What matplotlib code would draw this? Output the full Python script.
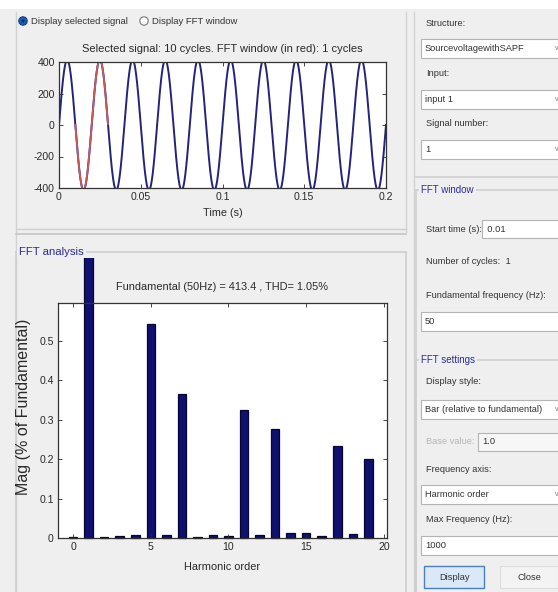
import matplotlib.pyplot as plt
import numpy as np
from matplotlib.patches import Rectangle, Circle

W, H = 558, 592  # output size in pixels
DPI = 100

# signal shown in the top axes (parameters read from the window)
FUND_FREQ = 50.0       # Hz
FUND_MAG = 413.4       # peak value
SIM_TIME = 0.2         # s
FFT_START = 0.01       # s
FFT_CYCLES = 1
time_ticks = [0, 0.05, 0.1, 0.15, 0.2]
time_labels = ["0", "0.05", "0.1", "0.15", "0.2"]
volt_ticks = [-400, -200, 0, 200, 400]

# harmonic spectrum (% of fundamental), orders 0..19
harmonic_order = list(range(20))
harmonic_mag = [0.003, 100.0, 0.002, 0.005, 0.008, 0.542, 0.008, 0.365, 0.002, 0.008,
                0.004, 0.325, 0.008, 0.277, 0.013, 0.013, 0.005, 0.234, 0.010, 0.200]
mag_ticks = [0, 0.1, 0.2, 0.3, 0.4, 0.5]
mag_labels = ["0", "0.1", "0.2", "0.3", "0.4", "0.5"]
order_ticks = [0, 5, 10, 15, 20]

GUI_GRAY = "#efefef"
BLUE_TXT = "#2b2b9a"
TXT = "#2a2a2a"
plt.rcParams['font.family'] = ["Liberation Sans", "DejaVu Sans"]
plt.rcParams['axes.unicode_minus'] = False

fig = plt.figure(figsize=(W / DPI, H / DPI), dpi=DPI, facecolor=GUI_GRAY)

# background axes in pixel coords (origin top-left) for the GUI furniture
bg = fig.add_axes([0, 0, 1, 1])
bg.set_xlim(0, W)
bg.set_ylim(H, 0)
bg.axis("off")
bg.add_patch(Rectangle((0, 0), W, 9, color="white", lw=0))


def px_axes(left, top, right, bottom):
    return fig.add_axes([left / W, 1 - bottom / H, (right - left) / W, (bottom - top) / H])


def label(x, y, s, size=6.7, color="#333333", **kw):
    bg.text(x, y, s, fontsize=size, color=color, va="center", ha=kw.pop("ha", "left"), **kw)


def box(x, y, w, h, text="", arrow=False, fc="white"):
    bg.add_patch(Rectangle((x, y), w, h, fc=fc, ec="#b4b4b4", lw=0.8))
    if text:
        label(x + 4, y + h / 2, text)
    if arrow:
        label(x + w - 6, y + h / 2, "v", size=5, color="#777777")


def frame(x0, y0, x1, y1, title=None, tx=None, size=7.0):
    bg.plot([x0, x1], [y0, y0], color="#cfcfcf", lw=1.2)
    bg.plot([x0, x0], [y0, y1], color="#cfcfcf", lw=1.2)
    bg.plot([x1, x1], [y0, y1], color="#cfcfcf", lw=1.2)
    if title:
        t = bg.text(tx, y0, title, fontsize=size, color=BLUE_TXT, va="center", ha="left")
        t.set_bbox(dict(fc=GUI_GRAY, ec="none", pad=1.5))


# left panel outlines
bg.plot([16, 16], [12, 592], color="#d2d2d2", lw=1.0)
bg.plot([406, 406], [12, 232], color="#d2d2d2", lw=1.0)
bg.plot([16, 406], [229, 229], color="#cfcfcf", lw=1.0)
bg.plot([16, 406], [234, 234], color="#c4c4c4", lw=1.2)
frame(16, 252, 406, 600, "FFT analysis", 19, size=8.2)

# radio buttons
bg.add_patch(Circle((23, 21), 4.2, fc="#1d5fb8", ec="#0f3f80", lw=0.8))
bg.add_patch(Circle((23, 21), 1.6, fc="#0a2a60", ec="none"))
label(31, 21, "Display selected signal", size=6.8)
bg.add_patch(Circle((144, 21), 4.2, fc="white", ec="#7a7a7a", lw=0.8))
label(152, 21, "Display FFT window", size=6.8)

# right panel
bg.plot([414, 414], [12, 592], color="#d2d2d2", lw=1.0)
label(426, 24, "Structure:")
box(421, 39, 140, 19, "SourcevoltagewithSAPF", arrow=True)
label(426, 74, "Input:")
box(421, 90, 140, 19, "input 1", arrow=True)
label(426, 123, "Signal number:")
box(421, 140, 140, 19, "1", arrow=True)
bg.plot([416, 558], [177, 177], color="#cfcfcf", lw=1.2)
frame(416, 190, 565, 600, "FFT window", 421)
label(426, 229, "Start time (s):  0.01")
box(482, 220, 90, 18, fc="white")
label(426, 262, "Number of cycles:  1")
label(426, 296, "Fundamental frequency (Hz):")
box(421, 312, 140, 19, "50")
frame(416, 360, 565, 600, "FFT settings", 421)
label(426, 382, "Display style:")
box(421, 400, 140, 19, "Bar (relative to fundamental)", arrow=True)
label(426, 442, "Base value:", color="#b5b5b5")
box(478, 433, 90, 18, "1.0", fc="#f7f7f7")
label(426, 470, "Frequency axis:")
box(421, 485, 140, 19, "Harmonic order", arrow=True)
label(426, 520, "Max Frequency (Hz):")
box(421, 536, 140, 19, "1000")
bg.add_patch(Rectangle((424, 566), 60, 22, fc="#dbe8f7", ec="#4a7fc0", lw=1.0))
label(454, 577, "Display", ha="center")
bg.add_patch(Rectangle((500, 566), 58, 22, fc="#f3f3f3", ec="#dddddd", lw=0.8))
label(529, 577, "Close", ha="center")


def matlab_style(ax):
    ax.set_facecolor("white")
    ax.tick_params(direction="in", length=3, width=0.6, labelsize=7.6,
                   top=True, right=True, colors=TXT, pad=3)
    for sp in ax.spines.values():
        sp.set_linewidth(0.9)
        sp.set_color("#333333")


# top axes: selected signal
t = np.arange(0, SIM_TIME + 1e-5, 5e-5)
v = FUND_MAG * np.sin(2 * np.pi * FUND_FREQ * t)
t_end = FFT_START + FFT_CYCLES / FUND_FREQ
in_win = (t >= FFT_START) & (t <= t_end)

ax1 = px_axes(59, 62, 386, 188)
ax1.plot(t, v, color="#23237e", lw=1.4)
ax1.plot(t[in_win], v[in_win], color="#c85a5a", lw=1.3)
ax1.set_xlim(0, SIM_TIME)
ax1.set_ylim(-400, 400)
ax1.set_xticks(time_ticks)
ax1.set_xticklabels(time_labels)
ax1.set_yticks(volt_ticks)
matlab_style(ax1)
ax1.set_title("Selected signal: 10 cycles. FFT window (in red): 1 cycles",
              fontsize=8.0, pad=7, color=TXT)
ax1.set_xlabel("Time (s)", fontsize=7.8, labelpad=4, color=TXT)

# bottom axes: FFT bar chart
ax2 = px_axes(58, 303, 387, 538)
bars = ax2.bar(harmonic_order, harmonic_mag, width=0.55, color="#10106e",
               edgecolor="#050530", lw=0.9)
clip = Rectangle((17, 258), 388, 340, transform=bg.transData)
for b in bars:
    b.set_clip_box(None)
    b.set_clip_path(clip)
ax2.set_xlim(-0.97, 20.2)
ax2.set_ylim(0, 0.595)
ax2.set_xticks(order_ticks)
ax2.set_yticks(mag_ticks)
ax2.set_yticklabels(mag_labels)
matlab_style(ax2)
ax2.set_title("Fundamental (50Hz) = 413.4 , THD= 1.05%", fontsize=7.9, pad=9,
              color=TXT)
ax2.set_xlabel("Harmonic order", fontsize=7.9, labelpad=7, color=TXT)
ax2.set_ylabel("Mag (% of Fundamental)", fontsize=11.5, color=TXT)
ax2.yaxis.set_label_coords(-0.082, 0.557)

fig.savefig("out.png", dpi=DPI, facecolor=GUI_GRAY)
